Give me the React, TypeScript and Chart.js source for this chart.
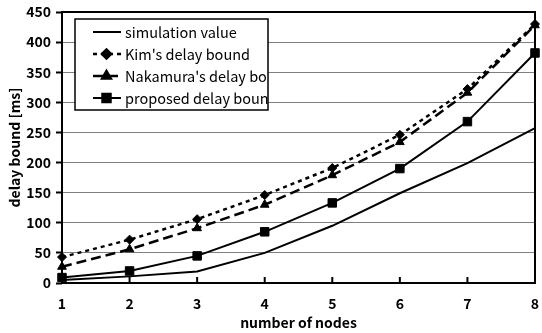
import React, { useEffect, useRef } from "react";
import { Chart, registerables } from "chart.js";
import { drawPoint } from "chart.js/helpers";

Chart.register(...registerables);

const nodes = ["1", "2", "3", "4", "5", "6", "7", "8"];
const simulation = [5, 11, 19, 50, 95, 149, 199, 257];
const kim = [43, 72, 106, 146, 191, 246, 322, 430];
const nakamura = [27, 56, 91, 130, 179, 234, 316, 428];
const proposed = [9, 20, 45, 85, 133, 190, 268, 382];
const seriesNames = ["simulation value", "Kim's delay bound", "Nakamura's delay bound", "proposed delay bound"];

const FONT = '"Noto Sans CJK JP", "Noto Sans", sans-serif';

const framePlugin = {
  id: "frame",
  beforeDatasetsDraw(chart: any) {
    const { ctx, chartArea } = chart;
    const { left, right, top, bottom } = chartArea;
    ctx.save();
    ctx.strokeStyle = "#000";
    ctx.lineWidth = 2;
    ctx.strokeRect(left, top, right - left, bottom - top);
    const xs = chart.scales.x;
    for (let i = 1; i < nodes.length - 1; i++) {
      const px = xs.getPixelForValue(i);
      ctx.beginPath();
      ctx.moveTo(px, bottom);
      ctx.lineTo(px, bottom - 6);
      ctx.stroke();
    }
    ctx.restore();
  },
};

const legendPlugin = {
  id: "boxLegend",
  afterDraw(chart: any) {
    const { ctx } = chart;
    const bx = 75, by = 19, bw = 193, bh = 91;
    ctx.save();
    ctx.fillStyle = "#fff";
    ctx.fillRect(bx, by, bw, bh);
    ctx.strokeStyle = "#000";
    ctx.lineWidth = 1.5;
    ctx.strokeRect(bx, by, bw, bh);
    ctx.beginPath();
    ctx.rect(bx, by, bw, bh);
    ctx.clip();
    chart.data.datasets.forEach((ds: any, i: number) => {
      const y = 32 + i * 22;
      ctx.save();
      ctx.strokeStyle = "#000";
      ctx.lineWidth = ds.borderWidth;
      ctx.setLineDash(ds.borderDash || []);
      ctx.beginPath();
      ctx.moveTo(93, y);
      ctx.lineTo(121, y);
      ctx.stroke();
      ctx.setLineDash([]);
      if (ds.pointRadius > 0) {
        ctx.fillStyle = "#000";
        drawPoint(ctx, { pointStyle: ds.pointStyle, radius: ds.pointRadius, rotation: 0, borderWidth: 1 }, 106.5, y);
      }
      ctx.restore();
      ctx.fillStyle = "#000";
      ctx.font = `14.5px ${FONT}`;
      ctx.textBaseline = "middle";
      ctx.textAlign = "left";
      ctx.fillText(ds.label, 125, y);
    });
    ctx.restore();
  },
};

export default function App() {
  const ref = useRef<HTMLCanvasElement>(null);
  useEffect(() => {
    const chart = new Chart(ref.current!, {
      type: "line",
      data: {
        labels: nodes,
        datasets: [
          { label: seriesNames[0], data: simulation, borderColor: "#000", backgroundColor: "#000", borderWidth: 2, pointRadius: 0, borderDash: [] },
          { label: seriesNames[1], data: kim, borderColor: "#000", backgroundColor: "#000", borderWidth: 2.5, borderDash: [4, 4], pointStyle: "rectRot", pointRadius: 4.5, pointBorderWidth: 1 },
          { label: seriesNames[2], data: nakamura, borderColor: "#000", backgroundColor: "#000", borderWidth: 2.5, borderDash: [10, 5], pointStyle: "triangle", pointRadius: 5, pointBorderWidth: 1 },
          { label: seriesNames[3], data: proposed, borderColor: "#000", backgroundColor: "#000", borderWidth: 2, borderDash: [], pointStyle: "rect", pointRadius: 6, pointBorderWidth: 1 },
        ] as any,
      },
      options: {
        responsive: false,
        animation: false,
        layout: { padding: { top: 12, right: 1, left: 0, bottom: 0 } },
        plugins: { legend: { display: false }, tooltip: { enabled: false } },
        scales: {
          x: {
            offset: false,
            grid: { display: false, drawTicks: false },
            border: { display: false },
            ticks: { color: "#000", font: { family: FONT, size: 14, weight: "bold" }, padding: 12, maxRotation: 0 },
            title: { display: true, text: "number of nodes", color: "#000", font: { family: FONT, size: 14, weight: "bold" }, padding: { top: 0, bottom: 2 } },
            afterFit(scale: any) {
              scale.height = 50;
              scale.paddingLeft = 0;
              scale.paddingRight = 0;
            },
          },
          y: {
            min: 0,
            max: 450,
            grid: { color: "#7f7f7f", lineWidth: 1, tickColor: "#000", tickLength: 6, tickWidth: 2 },
            border: { display: false },
            ticks: { stepSize: 50, color: "#000", font: { family: FONT, size: 14, weight: "bold" }, padding: 5 },
            title: { display: true, text: "delay bound [ms]", color: "#000", font: { family: FONT, size: 14, weight: "bold" }, padding: { top: 6, bottom: 0 } },
            afterFit(scale: any) {
              scale.width = 62;
              scale.paddingTop = 0;
              scale.paddingBottom = 0;
            },
          },
        },
      } as any,
      plugins: [framePlugin, legendPlugin],
    });
    return () => chart.destroy();
  }, []);
  return (
    <div style={{ position: "fixed", left: 0, top: 0, width: 542, height: 333, background: "#fff" }}>
      <canvas ref={ref} width={542} height={333} />
    </div>
  );
}
